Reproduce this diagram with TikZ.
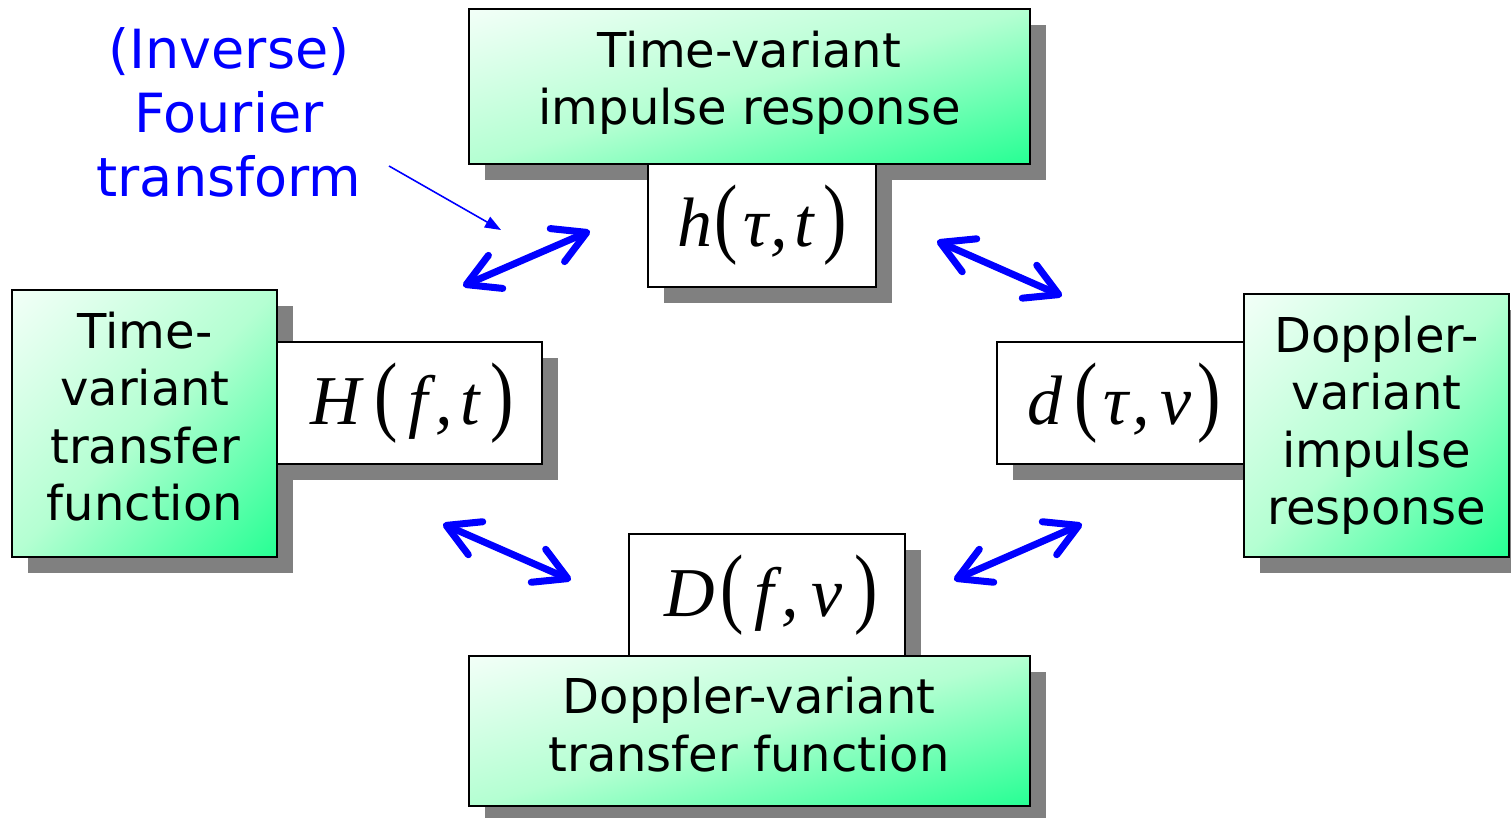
\documentclass[tikz,border=0pt]{standalone}
\usepackage{graphicx}
\usepackage{fontspec}
\setmainfont{DejaVu Sans}
\newfontfamily\mserif{Liberation Serif}
\usetikzlibrary{shadows,arrows.meta,calc}
\definecolor{sg}{RGB}{10,255,135}
\definecolor{mg}{RGB}{180,255,210}
\definecolor{shd}{RGB}{128,128,128}
\definecolor{fblue}{RGB}{0,0,255}
\newcommand{\mfn}[1]{{\mserif\fontsize{35}{40}\selectfont\itshape #1}}
\newcommand{\bpar}[1]{{\mserif\fontsize{37}{40}\selectfont\scalebox{0.95}[1.2]{#1}}}
\tikzset{
  myshadow/.style={drop shadow={shadow xshift=8pt, shadow yshift=-8pt, fill=shd, opacity=1}},
  gframe/.style={draw=black, line width=1pt, fill=white, inner sep=0pt, outer sep=0pt, myshadow},
  gshade/.style={top color=white, bottom color=sg, middle color=mg, shading angle=45},
  border/.style={draw=black, line width=1pt},
  whitebox/.style={draw=black, line width=1pt, fill=white, inner sep=0pt, myshadow},
  lbl/.style={align=center, font=\fontsize{24}{28.75}\selectfont, inner sep=0pt},
  bluelbl/.style={align=center, text=fblue, font=\fontsize{27}{32}\selectfont, inner sep=0pt},
  mathlbl/.style={inner sep=0pt},
  dblarrow/.style={draw=fblue, line width=3.5pt, {Straight Barb[length=16pt,width=18pt,round]}-{Straight Barb[length=16pt,width=18pt,round]}},
  thinarrow/.style={draw=fblue, line width=0.8pt, -{Triangle[length=8pt,width=6pt]}},
}
% name, x, y, width(pt), height(pt)
\newcommand{\greenbox}[5]{%
  \node[gframe, minimum width=#4pt, minimum height=#5pt] (#1) at (#2,#3) {};
  \begin{scope}[transform canvas={shift={(#1.center)}, xscale=#4/10, yscale=#5/10}]
    \clip (-5pt,-5pt) rectangle (5pt,5pt);
    \shade[gshade] (-8.5pt,-8.5pt) rectangle (8.5pt,8.5pt);
  \end{scope}
  \draw[border] (#1.north west) rectangle (#1.south east);
}
\begin{document}
\begin{tikzpicture}[x=0.5pt,y=-0.5pt]
\useasboundingbox (0,0) rectangle (1511,818);
% top
\greenbox{top}{749.5}{86.5}{280.5}{77.5}
\node[lbl] (toptxt) at (749.5,84.5) {\strut Time-variant\\impulse response\strut};
\node[whitebox, minimum width=114pt, minimum height=61.5pt] (hbox) at (762,225.5) {};
\node[mathlbl] (htxt) at (762,225.5) {\mfn{h}\kern1pt\bpar{(}\kern3pt\mfn{τ}\kern1pt\mfn{,}\kern3pt\mfn{t}\kern5pt\bpar{)}};
% left
\greenbox{left}{144.5}{423.5}{132.5}{133.5}
\node[lbl] (lefttxt) at (145,423) {\strut Time-\\variant\\transfer\\function\strut};
\node[whitebox, minimum width=132.5pt, minimum height=61pt] (Hbox) at (409.5,403) {};
\node[mathlbl] (Htxt) at (412,403) {\mfn{H}\kern7pt\bpar{(}\kern5pt\mfn{f}\kern4pt\mfn{,}\kern4pt\mfn{t}\kern5pt\bpar{)}};
% right
\node[whitebox, minimum width=124pt, minimum height=61pt] (dbox) at (1121,403) {};
\node[mathlbl] (dtxt) at (1124,403) {\mfn{d}\kern6pt\bpar{(}\kern3pt\mfn{τ}\kern2pt\mfn{,}\kern5pt\mfn{ν}\kern3pt\bpar{)}};
\greenbox{right}{1376.5}{425.5}{132.5}{131.5}
\node[lbl] (righttxt) at (1376.5,427) {\strut Doppler-\\variant\\impulse\\response\strut};
% bottom
\node[whitebox, minimum width=138pt, minimum height=61pt] (Dbox) at (767,595) {};
\node[mathlbl] (Dtxt) at (771,595) {\mfn{D}\kern3pt\bpar{(}\kern5pt\mfn{f}\kern4pt\mfn{,}\kern6pt\mfn{ν}\kern6pt\bpar{)}};
\greenbox{bottom}{749.5}{731}{280.5}{75}
\node[lbl] (bottomtxt) at (749,731) {\strut Doppler-variant\\transfer function\strut};
% label
\node[bluelbl] (ft) at (229,120) {\strut(Inverse)\\Fourier\\transform\strut};
% arrows
\coordinate (a1s) at (463,286);
\coordinate (a1e) at (590,231);
\coordinate (a2s) at (937,241);
\coordinate (a2e) at (1062,296);
\coordinate (a3s) at (443,524);
\coordinate (a3e) at (571,580);
\coordinate (a4s) at (954,580);
\coordinate (a4e) at (1082,524);
\coordinate (t1s) at (389,166);
\coordinate (t1e) at (501,230);
\draw[dblarrow] (a1s) -- (a1e);
\draw[dblarrow] (a2s) -- (a2e);
\draw[dblarrow] (a3s) -- (a3e);
\draw[dblarrow] (a4s) -- (a4e);
\draw[thinarrow] (t1s) -- (t1e);
\end{tikzpicture}
\end{document}
